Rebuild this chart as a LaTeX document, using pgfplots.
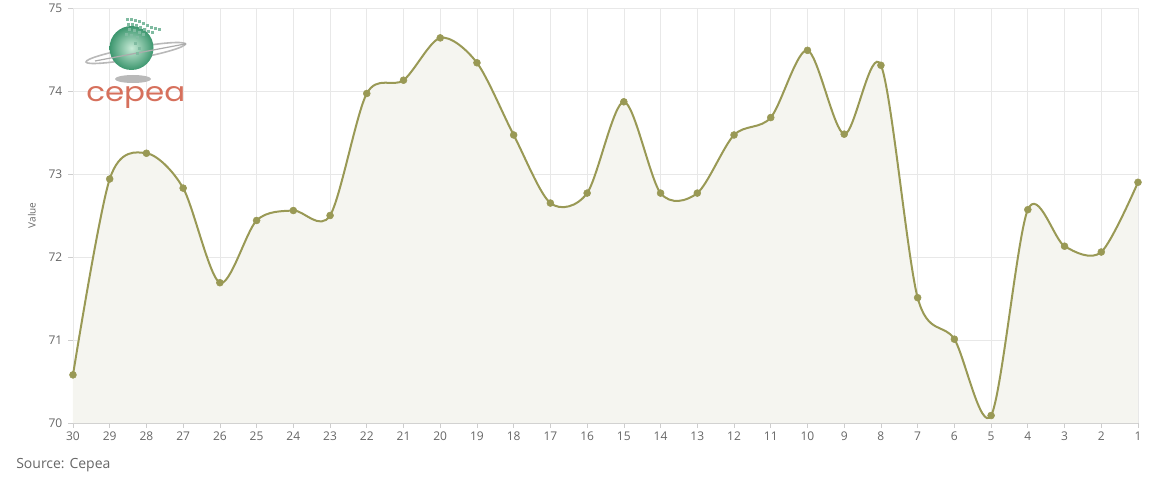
\documentclass[border=0pt]{standalone}
\usepackage{pgfplots}
\pgfplotsset{compat=1.18}
\usepackage{fontspec}
\setmainfont{Open Sans}
\newfontfamily\logofont{Poppins}
\definecolor{linec}{RGB}{153,153,85}
\definecolor{fillc}{RGB}{245,245,240}
\definecolor{gridc}{RGB}{232,232,232}
\definecolor{axisc}{RGB}{205,205,205}
\definecolor{textc}{RGB}{102,102,102}
\definecolor{logored}{RGB}{214,112,92}
\definecolor{ballgreen}{RGB}{60,150,110}
\definecolor{balllight}{RGB}{200,235,215}

\pgfplotstableread{
x y
30 70.58
29 72.94
28 73.25
27 72.83
26 71.69
25 72.44
24 72.56
23 72.50
22 73.97
21 74.13
20 74.64
19 74.34
18 73.47
17 72.65
16 72.77
15 73.87
14 72.77
13 72.77
12 73.47
11 73.68
10 74.49
9 73.48
8 74.31
7 71.51
6 71.01
5 70.09
4 72.57
3 72.13
2 72.06
1 72.90
}\datatable

\begin{document}
\begin{tikzpicture}
\useasboundingbox (0,0) rectangle (867pt,361.5pt);
\begin{axis}[
  at={(54.75pt,44.25pt)}, anchor=south west,
  scale only axis, width=798.75pt, height=311.25pt,
  xmin=1, xmax=30, x dir=reverse, ymin=70, ymax=75,
  xtick={1,...,30}, ytick={70,...,75},
  grid=major, major grid style={gridc, line width=0.5pt},
  axis x line=bottom, axis y line=left,
  axis line style={-},
  x axis line style={draw=axisc, line width=0.75pt},
  y axis line style={draw=none},
  tick style={axisc, line width=0.5pt},
  tick align=outside, major tick length=3.5pt,
  ticklabel style={font=\fontsize{9}{10}\selectfont, text=textc},
  /pgf/number format/assume math mode=true,
  xticklabel style={yshift=0.5pt},
  yticklabel style={xshift=-1pt},
  ylabel={Value},
  every axis y label/.style={at={(axis description cs:-0.0385,0.5)}, rotate=90, anchor=center, font=\fontsize{7.5}{8}\selectfont, text=textc},
  clip=false,
]
\addplot[draw=none, fill=fillc, smooth, tension=0.5] table[x=x,y=y]{\datatable} \closedcycle;
\addplot[linec, line width=1.5pt, smooth, tension=0.5, mark=*, mark size=2.6pt, mark options={solid, fill=linec, draw=linec, line width=0.4pt}] table[x=x,y=y]{\datatable};
\end{axis}
\node[anchor=west, inner sep=0pt, font=\fontsize{10.5}{12}\selectfont, text=textc] at (12pt,12.8pt) {Source: Cepea};
% logo
\begin{scope}[x=0.75pt,y=-0.75pt,shift={(0pt,361.5pt)}]
  \fill[gray!55] (133,79) ellipse (18 and 4);
  \draw[gray!55, line width=1.2pt, rotate around={10.3:(135.5,53)}] (135.5,53) ellipse (50.3 and 5.5);
  \shade[inner color=balllight, outer color=ballgreen] (131.5,48) circle (22);
  \draw[gray!65, line width=0.9pt] (95,61) -- (185,44);
  \fill[gray!65] (185,44) circle (1.6);
  \foreach \p in {(126,18),(130,18),(134,19),(138,20),(142,22),(146,24),(150,26),(154,27),(158,28),
                  (127,23),(131,23),(135,24),(139,26),(143,28),(147,30),(151,31),
                  (128,28),(133,29),(138,31),(142,33),(125,33),(130,34),(136,36),(134,42),(138,47),(136,52)}
    \fill[ballgreen!65] \p rectangle ++(2.6,2.6);
  \node[anchor=south west, inner sep=0pt, text=logored] at (86,109)
    {\resizebox{74.25pt}{11.25pt}{\logofont cepea}};
\end{scope}
\end{tikzpicture}
\end{document}
